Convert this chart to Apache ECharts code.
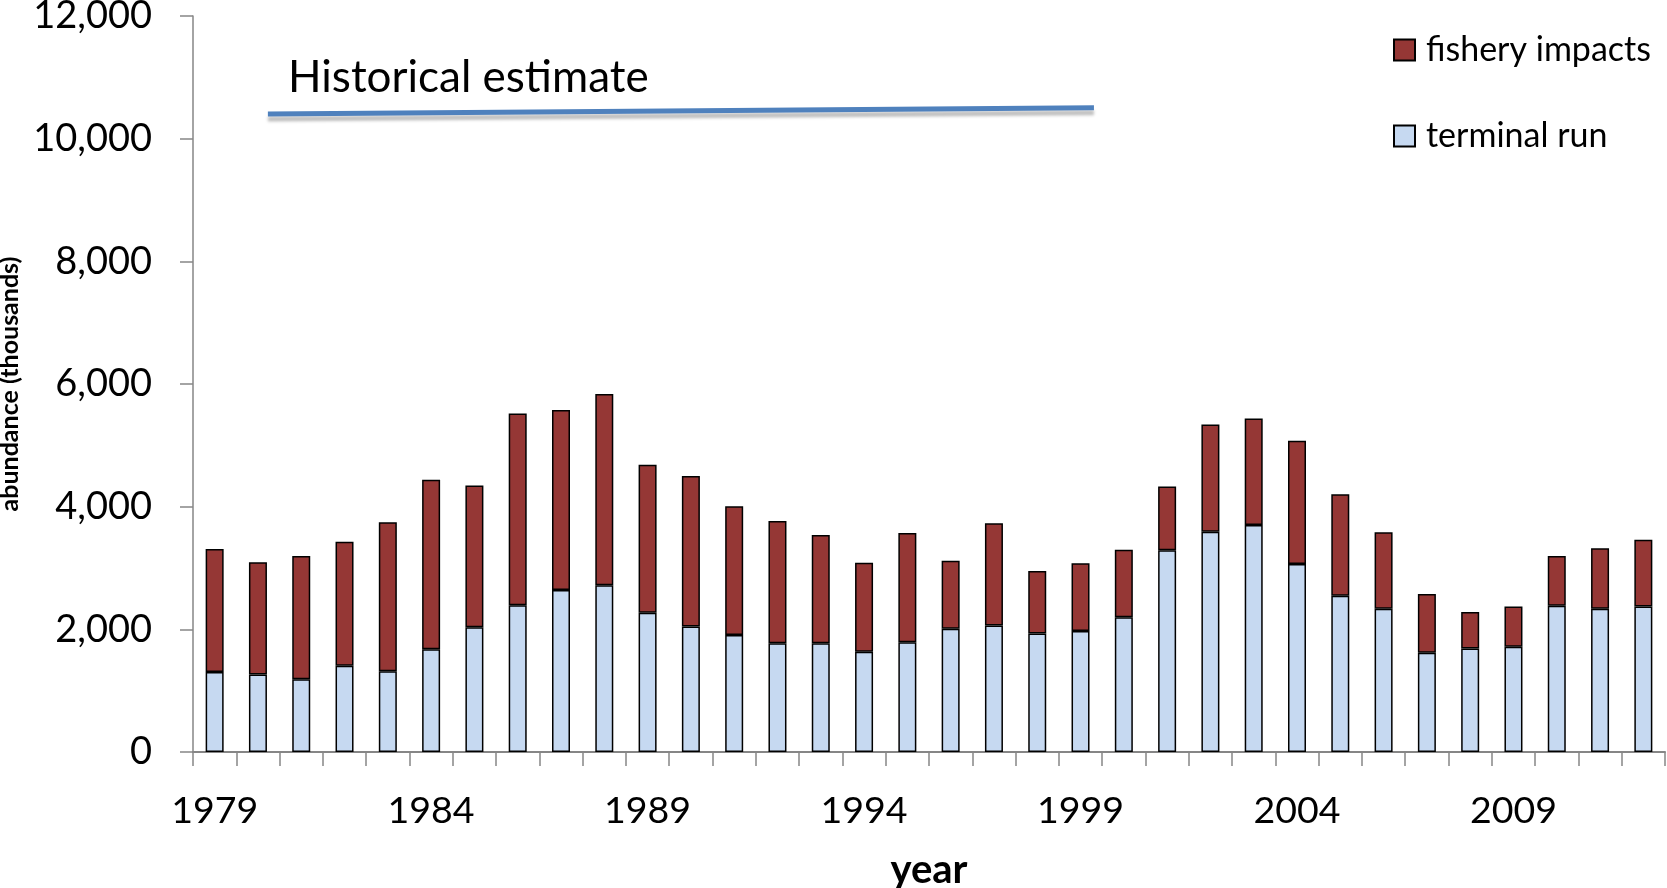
<!DOCTYPE html>
<html>
<head>
<meta charset="utf-8">
<script src="https://cdn.jsdelivr.net/npm/echarts@6/dist/echarts.min.js"></script>
<style>
  html, body { margin: 0; padding: 0; background: #fff; }
  #chart { width: 1667px; height: 888px; }
</style>
</head>
<body>
<div id="chart"></div>
<script>
// years on the x axis
const years = [];
for (let y = 1979; y <= 2012; y++) years.push(String(y));

// total abundance (top of each bar), thousands
const totalRun = [3310, 3093, 3196, 3430, 3746, 4437, 4344, 5520, 5575, 5836,
  4682, 4502, 4007, 3767, 3539, 3086, 3571, 3119, 3730, 2951,
  3077, 3299, 4328, 5340, 5438, 5074, 4203, 3583, 2575, 2281,
  2374, 3196, 3321, 3462];

// terminal run (lower part of each bar)
const terminalRun = [1306, 1264, 1187, 1405, 1318, 1677, 2036, 2391, 2641, 2717,
  2270, 2048, 1906, 1775, 1775, 1633, 1791, 2009, 2064, 1933,
  1971, 2195, 3289, 3593, 3702, 3065, 2548, 2335, 1617, 1688,
  1715, 2384, 2335, 2374];

// fishery impacts = total - terminal run
const fisheryImpacts = totalRun.map((t, i) => t - terminalRun[i]);

// historical estimate line, [year position, value]
const historicalLine = [[1980.23, 10404], [1999.31, 10505]];

const font = 'Lato, "Open Sans", sans-serif';

let myChart = echarts.init(document.getElementById('chart'));
myChart.setOption({
  animation: false,
  textStyle: { fontFamily: font },
  grid: { left: 193, right: 2, top: 16, bottom: 136, containLabel: false, outerBoundsMode: 'none' },
  legend: {
    orient: 'vertical',
    left: 1388,
    top: 28,
    icon: 'rect',
    itemWidth: 21,
    itemHeight: 21,
    itemGap: 52,
    data: ['fishery impacts', 'terminal run'],
    textStyle: { fontSize: 34, color: '#000', lineHeight: 34, padding: [0, 0, 0, 6], fontFamily: font }
  },
  xAxis: [{
    type: 'category',
    data: years,
    axisLine: { lineStyle: { color: '#868686', width: 2 } },
    axisTick: { show: true, interval: 0, length: 14, lineStyle: { color: '#868686', width: 1.5 } },
    axisLabel: { interval: 4, fontSize: 37.5, color: '#000', margin: 40, fontFamily: font },
    splitLine: { show: false }
  }, {
    type: 'value',
    min: 1978.5,
    max: 2012.5,
    show: false
  }],
  yAxis: {
    type: 'value',
    min: 0,
    max: 12000,
    interval: 2000,
    name: 'abundance (thousands)',
    nameLocation: 'middle',
    nameGap: 170,
    nameTextStyle: { fontSize: 25, fontWeight: 'bold', color: '#000', fontFamily: font },
    axisLine: { show: true, lineStyle: { color: '#868686', width: 1.5 } },
    axisTick: { show: true, length: 13, lineStyle: { color: '#868686', width: 1.5 } },
    axisLabel: {
      fontSize: 38, color: '#000', margin: 41, fontFamily: font,
      formatter: v => v.toLocaleString('en-US')
    },
    splitLine: { show: false }
  },
  graphic: [{
    type: 'text',
    left: 288,
    top: 56,
    style: { text: 'Historical estimate', font: '44px ' + font, fill: '#000' }
  }, {
    // x axis title
    type: 'text',
    style: {
      text: 'year', x: 929, y: 850, align: 'center', verticalAlign: 'top',
      font: 'bold 40px ' + font, fill: '#000'
    }
  }],
  series: [{
    name: 'terminal run',
    type: 'bar',
    stack: 'run',
    barWidth: 18,
    data: terminalRun,
    itemStyle: { color: '#C6D9F1', borderColor: '#000', borderWidth: 1.5 }
  }, {
    name: 'fishery impacts',
    type: 'bar',
    stack: 'run',
    barWidth: 18,
    data: fisheryImpacts,
    itemStyle: { color: '#953735', borderColor: '#000', borderWidth: 1.5 }
  }, {
    name: 'historical',
    type: 'line',
    xAxisIndex: 1,
    data: historicalLine,
    symbol: 'none',
    lineStyle: {
      color: '#4F81BD', width: 5,
      shadowColor: 'rgba(0,0,0,0.25)', shadowBlur: 3, shadowOffsetY: 5
    },
    silent: true
  }]
});
</script>
</body>
</html>
